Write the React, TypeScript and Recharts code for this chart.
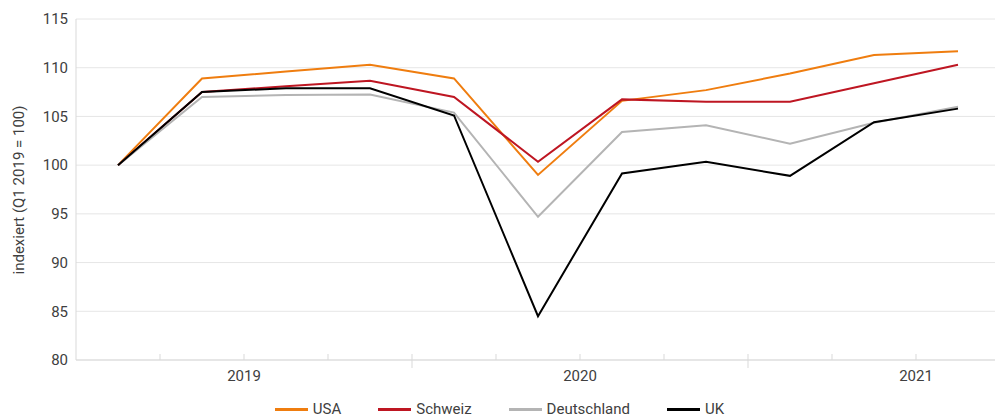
import React from 'react';
import { LineChart, Line, XAxis, YAxis, CartesianGrid, Legend, Label } from 'recharts';

// Quarterly values, indexed Q1 2019 = 100
const quarters = ['Q1 2019', 'Q2 2019', 'Q3 2019', 'Q4 2019', 'Q1 2020', 'Q2 2020', 'Q3 2020', 'Q4 2020', 'Q1 2021', 'Q2 2021', 'Q3 2021'];
const usa = [100, 108.9, 109.6, 110.3, 108.9, 99.0, 106.6, 107.7, 109.4, 111.3, 111.7];
const schweiz = [100, 107.5, 108.1, 108.65, 107.0, 100.35, 106.75, 106.5, 106.5, 108.4, 110.3];
const deutschland = [100, 107.0, 107.2, 107.25, 105.4, 94.7, 103.4, 104.1, 102.2, 104.35, 106.0];
const uk = [100, 107.5, 107.9, 107.9, 105.1, 84.5, 99.15, 100.35, 98.9, 104.4, 105.8];
const yTicks = [80, 85, 90, 95, 100, 105, 110, 115];

const series = [
    { name: 'USA', values: usa, color: '#ef7d0f' },
    { name: 'Schweiz', values: schweiz, color: '#be1622' },
    { name: 'Deutschland', values: deutschland, color: '#b4b4b4' },
    { name: 'UK', values: uk, color: '#000000' },
];

const data = quarters.map((q, i) => {
    const row: Record<string, number | string> = { i, q };
    series.forEach(s => { row[s.name] = s.values[i]; });
    return row;
});

// years and where they start in the quarter list
const years = Array.from(new Set(quarters.map(q => q.split(' ')[1])));
const yearStart = years.map(y => quarters.findIndex(q => q.endsWith(y)));
const yearLabelAt: Record<string, string> = {};
years.forEach((y, k) => { yearLabelAt[String(yearStart[k] + 1.5)] = y; });
const yearBreaks = yearStart.slice(1).map(s => s - 0.5);
const xTicks = quarters.slice(1).map((_, i) => i + 0.5);

const textColor = '#404040';
const axisColor = '#d9d9d9';
const font = 'Roboto, "DejaVu Sans", sans-serif';

function QuarterTick(props: any) {
    const { x, y, payload } = props;
    const v = payload.value;
    const isBreak = yearBreaks.includes(v);
    const label = yearLabelAt[String(v)];
    return <g>
        <line x1={x} x2={x} y1={y - 6} y2={isBreak ? y + 8 : y} stroke={axisColor} strokeWidth={1} />
        {label && <text x={x} y={y + 21} textAnchor="middle" fill={textColor} fontSize={15} fontFamily={font}>{label}</text>}
    </g>;
}

function LegendContent() {
    return <div style={{ display: 'flex', justifyContent: 'center', gap: 37, paddingLeft: 4, fontFamily: font, fontSize: 15, lineHeight: '16px', color: textColor, height: 16, alignItems: 'center' }}>
        {series.map(s => <div key={s.name} style={{ display: 'flex', alignItems: 'center', gap: 5 }}>
            <div style={{ width: 33, height: 3, background: s.color }} />
            <span>{s.name}</span>
        </div>)}
    </div>;
}

export default function App() {
    return <div style={{ position: 'absolute', left: 0, top: 0, width: 995, height: 417, overflow: 'hidden', background: '#fff' }}>
        <LineChart width={1000} height={417} data={data} margin={{ top: 19, right: 0, left: 0, bottom: 11 }}>
            <CartesianGrid vertical={false} stroke="#e6e6e6" />
            <XAxis dataKey="i" type="number" domain={[-0.5, 10.5]} ticks={xTicks} interval={0}
                height={30} tickSize={0} tickMargin={0} tickLine={false} stroke={axisColor} tick={<QuarterTick />} />
            <YAxis domain={[80, 115]} ticks={yTicks} width={76} tickSize={0} tickMargin={8} tickLine={false}
                stroke={axisColor} tick={{ fill: textColor, fontSize: 15, fontFamily: font }}>
                <Label content={() => <text x={19} y={190} transform="rotate(-90, 19, 190)" textAnchor="middle" dominantBaseline="central"
                    fill={textColor} fontSize={15} fontFamily={font}>indexiert (Q1 2019 = 100)</text>} />
            </YAxis>
            <Legend verticalAlign="bottom" height={16} content={<LegendContent />}
                wrapperStyle={{ top: 401, bottom: 'auto', left: 0, width: 995, height: 16 }} />
            {series.map(s => <Line key={s.name} type="linear" dataKey={s.name} stroke={s.color} strokeWidth={2}
                dot={false} activeDot={false} isAnimationActive={false} />)}
        </LineChart>
    </div>;
}
